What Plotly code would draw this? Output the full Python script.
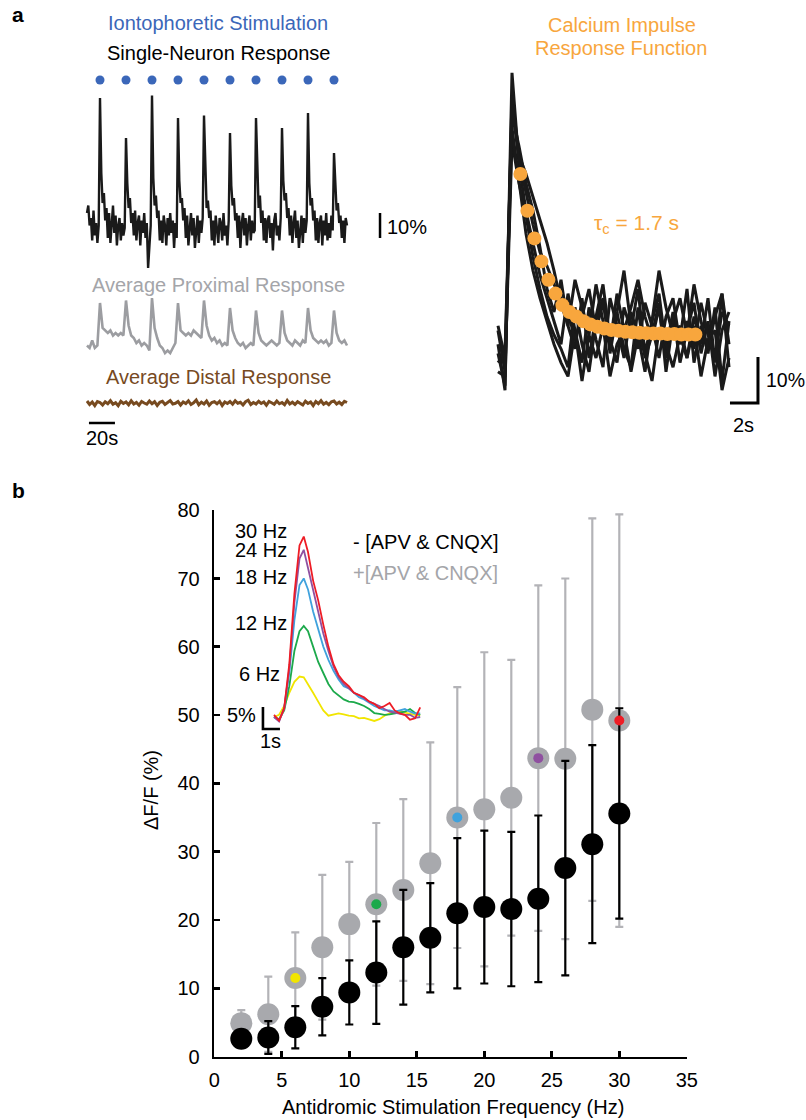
import plotly.graph_objects as go

# ======================= DATA =======================
# ---- Panel a (left): example traces ----
single_time_s = list(range(0, 201, 1))          # single-neuron trace, 1 s samples
trace_time_s = list(range(0, 201, 2))           # averaged traces, 2 s samples
stim_times_s = [10, 30, 50, 70, 90, 110, 130, 150, 170, 190]

single_neuron = [
    6, 9, 1, 4, -5, 7, -3, 2, -6, 1,
    52, 22, 10, 14, 3, 8, -4, 6, -6, 3, 9, -2, 5, -7, 1, 4, -5, 2, -3, 0,
    36, 18, 8, 12, 2, 6, -3, 7, -5, 2, 5, -7, 3, -2, 6, -4, 2, -16, -6, 1,
    53, 20, 9, 13, 4, 7, -5, 3, -6, 5, 1, -7, 4, -3, 6, -2, 3, -8, 2, -4,
    44, 19, 10, 12, 3, 8, -4, 5, -7, 2, 6, -3, 4, -8, 1, 5, -6, 3, -2, 4,
    45, 21, 8, 11, 4, 7, -5, 3, -7, 5, 0, -6, 4, 2, -5, 6, -3, 1, -7, 3,
    38, 17, 9, 12, 3, 6, -4, 5, -8, 2, 6, -3, 4, -7, 1, 5, -5, 3, -2, -1,
    44, 20, 8, 13, 2, 7, -5, 4, -6, 3, 5, -4, 2, -9, 3, 6, -3, 1, -5, 4,
    40, 19, 11, 14, 4, 8, -3, 5, -6, 2, 7, -4, 3, -8, 0, 5, -6, 4, -2, 3,
    46, 18, 9, 12, 3, 7, -5, 4, -6, 2, 5, -7, 3, -3, 6, -5, 2, -4, 5, -1,
    30, 15, 7, 10, 2, 5, -4, 3, -6, 4, 1,
]
proximal_avg = [
    -1, -2, 1, -2, -1,
    16, 6, 5, 4, 5, 3, 4, 3, 4, 3,
    17, 7, 3, 2, 0, 1, -1, 0, -1, -3,
    18, 6, 2, -1, -2, -4, -3, -4, -2, 0,
    16, 5, 4, 3, 4, 3, 5, 4, 3, 2,
    17, 7, 3, 1, 2, 0, 1, -1, 0, -1,
    14, 5, 2, 0, -1, 0, -2, -1, 0, -1,
    13, 4, 1, 0, -1, 0, 1, 0, -1, 0,
    13, 4, 1, 0, -1, 1, 0, -1, 1, 0,
    14, 5, 2, 1, 0, 1, 0, 1, -1, 0,
    13, 4, 1, 0, 1, -1,
]
distal_avg = [
    0.8, -0.6, 0.4, -1.0, 0.6, 0.2, -0.8, 0.5, -0.3, 0.9,
    -0.5, 0.1, -1.1, 0.7, -0.2, 0.4, -0.7, 0.9, -0.4, 0.2,
    -0.9, 0.6, 0.0, -0.5, 0.8, -0.3, 0.5, -1.0, 0.3, 0.7,
    -0.6, 0.2, 1.0, -0.4, -0.1, 0.6, -0.8, 0.4, -0.2, 0.9,
    -0.6, 0.1, 1.2, -0.7, 0.3, -0.4, 0.8, -0.9, 0.2, 0.5,
    -0.3, 0.7, -1.0, 0.4, -0.2, 0.6, -0.5, 0.9, -0.1, 0.3,
    -0.8, 0.5, 1.1, -0.6, 0.2, -0.4, 0.7, -0.2, 0.4, -0.9,
    0.6, 0.1, -0.5, 0.8, -0.3, 0.2, -0.7, 1.0, -0.4, 0.3,
    -0.6, 0.5, 0.0, -0.8, 0.7, -0.2, 0.4, -1.0, 0.6, -0.3,
    0.9, -0.5, 0.2, -0.7, 0.5, 0.8, -0.4, 0.3, -0.6, 0.7,
    0.2,
]

# ---- Panel a (right): calcium impulse responses, sampled every 0.5 s ----
impulse_time_s = [0, 0.5, 1, 1.5, 2, 2.5, 3, 3.5, 4, 4.5, 5, 5.5, 6, 6.5, 7, 7.5, 8,
                  8.5, 9, 9.5, 10, 10.5, 11, 11.5, 12, 12.5, 13, 13.5, 14, 14.5, 15,
                  15.5, 16, 16.5]
impulse_trials = [
    [-2, -12, 57, 37, 27, 20, 13, 8, 3, -2, 9, 1, -6, 6, -1, -7, 8, 2, -5, 5, 0, -8, 3, 9, -3, 5, -6, 1, 7, -4, 3, -9, 1, 5],
    [-6, -4, 48, 41, 33, 27, 19, 10, 5, 12, 2, -3, 8, -5, 4, 11, -1, -6, 6, 1, 10, -4, 3, 14, 6, 0, 2, -5, 4, -2, 8, -6, 9, -7],
    [1, -8, 42, 33, 26, 17, 10, 4, 0, -3, -7, 6, -2, -8, 3, 8, -4, 5, -3, -7, 6, -5, 0, 7, -8, 3, -1, 10, -6, 2, -4, 6, -10, 3],
    [-4, -11, 52, 39, 35, 30, 25, 20, 14, 7, 2, 12, 6, 0, 11, 3, -2, 9, 1, 6, 12, 4, -1, 6, -5, 3, 8, 0, 11, 3, -3, 4, 9, -2],
    [2, -5, 45, 33, 22, 14, 8, 3, -2, -6, -9, 1, -10, 0, -5, 2, -9, -2, 1, -8, 0, -4, -10, 1, -2, -7, 0, -5, 2, -9, -1, 1, -12, -5],
    [-8, -9, 50, 38, 31, 24, 18, 15, 11, 8, 5, -1, 4, 10, 1, 7, -1, 5, 14, 2, -3, 7, 2, -5, 4, 8, -2, 3, -3, 7, 0, -5, 5, 2],
]
fit_time_s = [1.6, 2.1, 2.6, 3.1, 3.6, 4.1, 4.6, 5.1, 5.6, 6.1, 6.6, 7.1, 7.6, 8.1, 8.6,
              9.1, 9.6, 10.1, 10.6, 11.1, 11.6, 12.1, 12.6, 13.1, 13.6, 14.1]
fit_values = [35, 27, 21, 16, 12, 9, 6.5, 5, 4, 3, 2.3, 1.8, 1.4, 1.1, 0.9, 0.7, 0.6,
              0.5, 0.4, 0.3, 0.3, 0.2, 0.2, 0.1, 0.1, 0.1]

# ---- Panel b: main plot ----
freq_hz = [2, 4, 6, 8, 10, 12, 14, 16, 18, 20, 22, 24, 26, 28, 30]
minus_mean = [2.6, 2.8, 4.3, 7.3, 9.4, 12.3, 16.0, 17.4, 21.0, 21.9, 21.6, 23.1, 27.6, 31.1, 35.6]
minus_sd = [1.0, 2.4, 3.1, 4.2, 4.7, 7.5, 8.4, 8.0, 11.0, 11.2, 11.3, 12.2, 15.7, 14.5, 15.4]
plus_mean = [4.9, 6.2, 11.5, 16.0, 19.4, 22.3, 24.4, 28.3, 35.0, 36.2, 37.9, 43.7, 43.6, 50.8, 49.2]
plus_sd = [1.9, 5.5, 6.7, 10.6, 9.1, 11.9, 13.3, 17.7, 19.1, 23.0, 20.2, 25.3, 26.4, 28.0, 30.2]

highlight_freq = [6, 12, 18, 24, 30]
highlight_labels = ["6 Hz", "12 Hz", "18 Hz", "24 Hz", "30 Hz"]

# ---- Panel b: inset average traces ----
inset_time_s = [0, 0.3, 0.6, 0.9, 1.2, 1.5, 1.75, 2.0, 2.3, 2.6, 2.9, 3.2, 3.5, 3.8, 4.1,
                4.4, 4.7, 5.0, 5.3, 5.6, 5.9, 6.2, 6.5, 6.8, 7.1, 7.4, 7.7, 8.0, 8.3, 8.6]
inset_6hz = [0, 0.5, 2.5, 5.5, 8, 9.2, 9, 7.5, 5.5, 3.5, 1.5, 0.3, 0.5, 0.8, 0.6, 0.3, 0.2,
             -0.3, -0.2, -0.5, -0.9, -0.5, 0.3, 0.8, 1.0, 1.2, 1.0, 0.7, 0.5, 0.4]
inset_12hz = [0, -0.5, 1.5, 7, 15, 19.5, 20.7, 19.5, 16, 12.5, 10, 7.5, 5.8, 4.8, 4, 3.5,
              3.4, 3.0, 2.5, 1.8, 0.9, 0.7, 0.5, 0.6, 0.8, 1.0, 1.2, 1.8, 0.9, 0.5]
inset_18hz = [0, -0.8, 2, 10, 22, 30, 31.5, 29, 24, 20, 16, 13, 10.5, 8.5, 7, 6.5, 5.5, 4.5,
              4, 3.2, 2.5, 2, 1.5, 1.5, 1.2, 1.5, 1.8, 1.2, 0.8, 0.8]
inset_24hz = [0, -1, 2, 11, 26, 36, 38, 34, 28.5, 24, 19, 15, 11.5, 9, 7.5, 6.5, 5.5, 5,
              4.3, 3.5, 3, 2.5, 1.8, 1.2, 1, 0.8, 0.5, 0.5, -0.2, 0]
inset_30hz = [0.5, -0.8, 2, 12, 28, 39, 41, 37.5, 31, 26.5, 21, 16, 12, 9.5, 8, 7, 5.5, 5,
              4.5, 3.5, 3, 2, 2.5, 3.2, 1.5, 0.8, 0.5, -0.6, -0.3, 2.2]

# ======================= STYLE =======================
W, H = 806, 1120
FONT = "Liberation Sans, Arial, Helvetica, sans-serif"
BLUE = "#3b67b9"
GRAY_TXT = "#a4a5a9"
GRAY_TRACE = "#9c9da1"
BROWN = "#774a1f"
ORANGE = "#f8a63d"
GRAY_PT = "#a8a9ad"
GRAY_BAR = "#b3b3b7"
HL_COLORS = ["#f1e500", "#1ca94b", "#3fa2dd", "#8f50a0", "#ee1c25"]


def pxx(x):
    return x / W


def pxy(y):
    return 1 - y / H


fig = go.Figure()

# ---------------- Panel a left ----------------
fig.add_trace(go.Scatter(x=stim_times_s, y=[59.2] * len(stim_times_s), mode="markers",
                         marker=dict(size=9, color=BLUE), xaxis="x2", yaxis="y2"))
fig.add_trace(go.Scatter(x=single_time_s, y=single_neuron, mode="lines",
                         line=dict(color="#1a1a1a", width=2.4), xaxis="x2", yaxis="y2"))
fig.add_trace(go.Scatter(x=trace_time_s, y=proximal_avg, mode="lines",
                         line=dict(color=GRAY_TRACE, width=2.6), xaxis="x2", yaxis="y3"))
fig.add_trace(go.Scatter(x=trace_time_s, y=distal_avg, mode="lines",
                         line=dict(color=BROWN, width=3), xaxis="x2", yaxis="y4"))
# scale bars (10 % vertical, 20 s horizontal)
fig.add_trace(go.Scatter(x=[225.4, 225.4], y=[6, -4], mode="lines",
                         line=dict(color="black", width=2.5), xaxis="x2", yaxis="y2"))
fig.add_trace(go.Scatter(x=[1.5, 21.5], y=[-8, -8], mode="lines",
                         line=dict(color="black", width=2.5), xaxis="x2", yaxis="y4"))

# ---------------- Panel a right ----------------
for trial in impulse_trials:
    fig.add_trace(go.Scatter(x=impulse_time_s, y=trial, mode="lines",
                             line=dict(color="#1a1a1a", width=3), xaxis="x3", yaxis="y5"))
fig.add_trace(go.Scatter(x=fit_time_s, y=fit_values, mode="markers",
                         marker=dict(size=14, color=ORANGE), xaxis="x3", yaxis="y5"))
fig.add_trace(go.Scatter(x=[16.57, 18.57, 18.57], y=[-14.78, -14.78, -4.78], mode="lines",
                         line=dict(color="black", width=3), xaxis="x3", yaxis="y5"))

# ---------------- Panel b main ----------------
fig.add_trace(go.Scatter(x=freq_hz, y=plus_mean, mode="markers",
                         marker=dict(size=22, color=GRAY_PT),
                         error_y=dict(type="data", array=plus_sd, color=GRAY_BAR,
                                      thickness=2.2, width=4),
                         cliponaxis=False, xaxis="x", yaxis="y"))
fig.add_trace(go.Scatter(x=freq_hz, y=minus_mean, mode="markers",
                         marker=dict(size=22, color="black"),
                         error_y=dict(type="data", array=minus_sd, color="black",
                                      thickness=2.2, width=4),
                         cliponaxis=False, xaxis="x", yaxis="y"))
hl_y = [plus_mean[freq_hz.index(f)] for f in highlight_freq]
fig.add_trace(go.Scatter(x=highlight_freq, y=hl_y, mode="markers",
                         marker=dict(size=10, color=HL_COLORS),
                         cliponaxis=False, xaxis="x", yaxis="y"))

# ---------------- Panel b inset ----------------
for vals, col in zip([inset_6hz, inset_12hz, inset_18hz, inset_24hz, inset_30hz], HL_COLORS):
    fig.add_trace(go.Scatter(x=inset_time_s, y=vals, mode="lines",
                             line=dict(color=col, width=1.8), xaxis="x4", yaxis="y6"))
fig.add_trace(go.Scatter(x=[-0.65, -0.65, 0.35], y=[2.27, -2.73, -2.73], mode="lines",
                         line=dict(color="black", width=2.6), xaxis="x4", yaxis="y6"))

# ======================= LAYOUT =======================
hidden = dict(visible=False, showgrid=False, zeroline=False, automargin=False)


def ann(text, x, y, color="black", size=20, xanchor="center", **kw):
    return dict(text=text, x=pxx(x), y=pxy(y), xref="paper", yref="paper",
                showarrow=False, xanchor=xanchor, yanchor="middle",
                font=dict(size=size, color=color, family=FONT), **kw)


annotations = [
    ann("<b>a</b>", 18, 15, size=21),
    ann("<b>b</b>", 18, 490, size=21),
    ann("Iontophoretic Stimulation", 218, 23, color=BLUE),
    ann("Single-Neuron Response", 218, 53),
    ann("10%", 385, 227, xanchor="left"),
    ann("Average Proximal Response", 218, 285, color=GRAY_TXT),
    ann("Average Distal Response", 218, 377, color=BROWN),
    ann("20s", 102, 438),
    ann("Calcium Impulse", 622, 25, color=ORANGE),
    ann("Response Function", 621, 48, color=ORANGE),
    ann("τ<sub>c</sub> = 1.7 s", 592, 224, color=ORANGE, xanchor="left", size=21),
    ann("10%", 764, 380, xanchor="left", size=19.5),
    ann("2s", 743, 425),
    ann("- [APV & CNQX]", 351, 542, xanchor="left"),
    ann("+[APV & CNQX]", 351, 573, color=GRAY_TXT, xanchor="left"),
    ann("5%", 258, 715, xanchor="right"),
    ann("1s", 270, 741),
    ann("ΔF/F (%)", 151, 790, textangle=-90),
    ann("Antidromic Stimulation Frequency (Hz)", 453, 1107),
]
label_y = {"30 Hz": 531, "24 Hz": 550, "18 Hz": 577, "12 Hz": 623, "6 Hz": 674}
label_x = {"30 Hz": 289, "24 Hz": 289, "18 Hz": 289, "12 Hz": 289, "6 Hz": 282}
for lab in highlight_labels:
    annotations.append(ann(lab, label_x[lab], label_y[lab], xanchor="right"))

fig.update_layout(
    width=W, height=H,
    margin=dict(l=0, r=0, t=0, b=0, pad=0, autoexpand=False),
    paper_bgcolor="white", plot_bgcolor="rgba(0,0,0,0)",
    showlegend=False, hovermode=False,
    font=dict(family=FONT, size=20, color="black"),
    annotations=annotations,
    xaxis=dict(domain=[pxx(214.3), pxx(686.8)], range=[0, 35], dtick=5, tick0=0,
               showline=True, linecolor="black", linewidth=2.6,
               ticks="inside", ticklen=6, tickwidth=2.6, tickcolor="black",
               showgrid=False, zeroline=False, anchor="y", automargin=False,
               tickfont=dict(size=20, family=FONT), ticklabelstandoff=4),
    yaxis=dict(domain=[pxy(1056.6), pxy(510.2)], range=[0, 80], dtick=10, tick0=0,
               showline=True, linecolor="black", linewidth=2.6,
               ticks="inside", ticklen=6, tickwidth=2.6, tickcolor="black",
               showgrid=False, zeroline=False, anchor="x", automargin=False,
               tickfont=dict(size=20, family=FONT), ticklabelstandoff=8),
    xaxis2=dict(domain=[pxx(60), pxx(440)], range=[(60 - 87) / 1.3, (440 - 87) / 1.3],
                anchor="y2", **hidden),
    yaxis2=dict(domain=[pxy(280), pxy(60)], range=[(228 - 280) / 2.5, (228 - 60) / 2.5],
                anchor="x2", **hidden),
    yaxis3=dict(domain=[pxy(372), pxy(290)], range=[(343 - 372) / 2.5, (343 - 290) / 2.5],
                anchor="x2", **hidden),
    yaxis4=dict(domain=[pxy(445), pxy(385)], range=[(403 - 445) / 2.5, (403 - 385) / 2.5],
                anchor="x2", **hidden),
    xaxis3=dict(domain=[pxx(480), pxx(800)], range=[(480 - 498) / 14, (800 - 498) / 14],
                anchor="y5", **hidden),
    yaxis5=dict(domain=[pxy(440), pxy(60)], range=[(335 - 440) / 4.6, (335 - 60) / 4.6],
                anchor="x3", **hidden),
    xaxis4=dict(domain=[pxx(240), pxx(430)], range=[(240 - 274) / 17, (430 - 274) / 17],
                anchor="y6", **hidden),
    yaxis6=dict(domain=[pxy(745), pxy(520)], range=[(717 - 745) / 4.4, (717 - 520) / 4.4],
                anchor="x4", **hidden),
)

# remove the page's default body margin so the figure sits at the window's top-left
fig.write_html("out.html",
               config={"displayModeBar": False, "staticPlot": True},
               post_script="document.body.style.margin='0';document.body.style.overflow='hidden';")
